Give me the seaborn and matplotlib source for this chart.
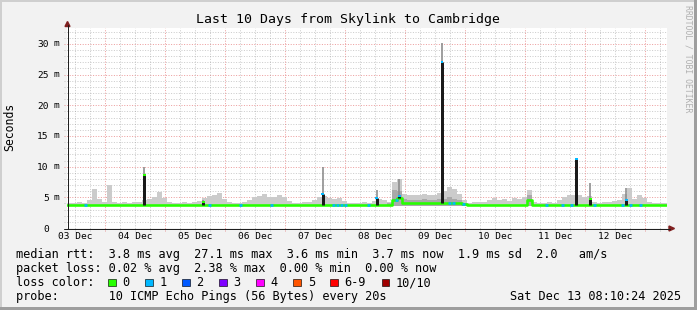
import numpy as np
import pandas as pd
import matplotlib
matplotlib.use("Agg")
import matplotlib.pyplot as plt
from matplotlib.patches import Rectangle, Polygon
from matplotlib.lines import Line2D
import seaborn as sns

# ---------------- data ----------------
title = "Last 10 Days from Skylink to Cambridge"
first_hour = 8.7          # hours after 03 Dec 00:00 at the left edge of the graph
span_hours = 240.0
bin_hours = 2.0
day_labels = ["03 Dec", "04 Dec", "05 Dec", "06 Dec", "07 Dec",
              "08 Dec", "09 Dec", "10 Dec", "11 Dec", "12 Dec"]
y_ticks_ms = [0, 5, 10, 15, 20, 25, 30]
min_rtt = 3.6

# smoke (max ping) per 2-hour bin, ms
smoke_top = [4.1, 4.1, 4.2, 4.1, 4.5, 6.4, 4.7, 4.3, 7.0, 4.2,
             4.1, 4.2, 4.1, 4.2, 4.3, 4.6, 4.8, 5.0, 5.9, 4.9,
             4.3, 4.1, 4.1, 4.2, 4.1, 4.2, 4.4, 4.9, 5.2, 5.3,
             5.7, 4.8, 4.2, 4.1, 4.1, 4.3, 4.6, 5.0, 5.2, 5.5,
             5.1, 5.0, 5.3, 5.0, 4.4, 4.1, 4.1, 4.2, 4.2, 4.6,
             5.0, 5.2, 4.9, 4.8, 4.9, 4.4, 4.1, 4.1, 4.1, 4.2,
             4.1, 4.4, 4.8, 4.6, 4.3, 7.5, 8.0, 5.6, 5.3, 5.4,
             5.3, 5.5, 5.3, 5.4, 5.7, 6.0, 6.7, 6.4, 5.6, 4.6,
             4.1, 4.2, 4.3, 4.3, 4.5, 4.9, 4.6, 4.8, 4.4, 4.9,
             4.7, 5.0, 6.2, 4.3, 4.1, 4.1, 4.2, 4.1, 4.5, 5.0,
             5.3, 5.4, 5.3, 5.0, 5.2, 4.3, 4.1, 4.2, 4.3, 4.4,
             4.5, 5.5, 6.5, 4.8, 5.4, 4.9, 4.2, 4.1, 4.1, 4.1]

# median rtt per 2-hour bin, ms
median_rtt = [3.75] * 10 + [3.75] * 10 + [3.75] * 10 + [3.75] * 10 + [3.75] * 10 + [3.75] * 10 + \
             [3.75, 3.75, 3.75, 3.75, 3.75, 4.6, 4.9, 4.15, 4.15, 4.15] + \
             [4.15, 4.15, 4.15, 4.15, 4.15, 4.15, 4.15, 4.15, 4.15, 3.95] + \
             [3.75] * 10 + \
             [3.75, 3.75, 4.5, 3.75, 3.75, 3.75, 3.75, 3.75, 3.75, 3.75] + \
             [3.75] * 10 + [3.75] * 10

# dense (dark) smoke band, 08-09 Dec and 11 Dec
dense_hours = [136.7, 138.7, 140.7, 142.7, 144.7, 146.7, 148.7, 150.7,
               152.7, 154.7, 156.7, 158.7, 160.7, 162.7, 164.7, 166.7, 192.7]
dense_top = [4.0, 6.2, 6.0, 4.7, 4.6, 4.6, 4.6, 4.7,
             4.6, 4.6, 4.7, 4.8, 5.0, 4.8, 4.6, 4.1, 5.3]

# single-step spikes of the median
spike_hours = [39.5, 63.1, 110.9, 132.5, 141.5, 158.7, 212.3, 217.9, 232.3]
spike_top = [8.6, 4.3, 5.5, 4.9, 5.2, 27.1, 11.3, 4.8, 4.6]
spike_smoke = [10.0, 4.6, 10.0, 6.2, 8.0, 30.2, 11.3, 7.4, 6.5]
spike_loss = [0, 0, 1, 1, 1, 1, 1, 0, 1]

# places where the median carries 1 lost ping
loss1_hours = [15.9, 65.5, 77.9, 90.3, 115.1, 116.7, 118.3, 119.9, 129.1, 140.3,
               161.5, 163.1, 167.1, 200.3, 206.7, 210.3, 219.5, 230.7, 233.9, 237.9]

loss_labels = ["0", "1", "2", "3", "4", "5", "6-9", "10/10"]
loss_colors = ["#26ff00", "#00b8ff", "#0059ff", "#7e00ff", "#ff00ff",
               "#ff5500", "#ff0000", "#a00000"]

stats_rtt = "median rtt:  3.8 ms avg  27.1 ms max  3.6 ms min  3.7 ms now  1.9 ms sd  2.0   am/s"
stats_loss = "packet loss: 0.02 % avg  2.38 % max  0.00 % min  0.00 % now"
loss_caption = "loss color:"
probe_line = "probe:       10 ICMP Echo Pings (56 Bytes) every 20s"
date_line = "Sat Dec 13 08:10:24 2025"

# ---------------- figure ----------------
sns.set_style("white")
plt.rcParams['font.family'] = ['DejaVu Sans Mono', 'DejaVu Sans']
plt.rcParams['text.color'] = 'black'

W, H = 697, 310
PT = 0.72  # points per pixel at 100 dpi


def fx(px):
    return px / W


def fy(py):
    return 1 - py / H


fig = plt.figure(figsize=(W / 100, H / 100), dpi=100, facecolor='#f2f2f2')
ax = fig.add_axes([fx(67), 82 / H, 600 / W, 200 / H])
ax.set_facecolor('white')
for s in ax.spines.values():
    s.set_visible(False)

x0, x1 = first_hour, first_hour + span_hours
ax.set_xlim(x0, x1)
ax.set_ylim(0, 32.6)

# grid
ytr = ax.get_yaxis_transform()
xtr = ax.get_xaxis_transform()
grid_c = (0.56, 0.56, 0.56, 0.45)
mgrid_c = (0.87, 0.31, 0.31, 0.55)
for v in range(1, 33):
    c = mgrid_c if v % 5 == 0 else grid_c
    ax.plot([-3 / 600, 1], [v, v], transform=ytr, color=c, lw=PT,
            ls=(0, (1, 1.6)), clip_on=False, zorder=0.5)
h = np.ceil(x0 / 6) * 6
while h < x1:
    c = mgrid_c if h % 24 == 0 else grid_c
    ax.plot([h, h], [-3 / 200, 1], transform=xtr, color=c, lw=PT,
            ls=(0, (1, 1.6)), clip_on=False, zorder=0.5)
    h += 6

# smoke
nb = len(smoke_top)
t_edges = first_hour + bin_hours * np.arange(nb + 1)
st = np.array(smoke_top + [smoke_top[-1]])
ax.fill_between(t_edges, min_rtt, st, step='post', color='#cbcbcb', lw=0, zorder=1)
for hh, top in zip(dense_hours, dense_top):
    ax.fill_between([hh, hh + bin_hours], min_rtt, top, step='post',
                    color='#a9a9a9', lw=0, zorder=1.1)

# median line (loss 0 colour)
df = pd.DataFrame({"hour": t_edges, "median": median_rtt + [median_rtt[-1]]})
sns.lineplot(data=df, x="hour", y="median", drawstyle='steps-post', color=loss_colors[0],
             lw=2.6 * PT, ax=ax, estimator=None, zorder=3)


def median_at(hh):
    i = int((hh - first_hour) // bin_hours)
    i = min(max(i, 0), nb - 1)
    return median_rtt[i]


# loss-1 marks on the median
for hh in loss1_hours:
    m = median_at(hh)
    ax.hlines(m, hh - 0.6, hh + 0.6, colors=loss_colors[1], lw=2.6 * PT, zorder=4)

# spikes
for hh, top, sm, ls in zip(spike_hours, spike_top, spike_smoke, spike_loss):
    base = median_at(hh)
    ax.vlines(hh, top, sm, colors='#8a8a8a', lw=1.6 * PT, zorder=2)
    ax.vlines(hh, base, top, colors='#1a1a1a', lw=3 * PT, zorder=4.5)
    ax.hlines(top, hh - 0.6, hh + 0.6, colors=loss_colors[ls], lw=2 * PT, zorder=5)

ax.set_xlabel("")
ax.set_ylabel("")

# ticks
noon_hours = [12 + 24 * i for i in range(len(day_labels))]
ax.set_xticks(noon_hours, day_labels)
ax.set_yticks(y_ticks_ms, [str(v) for v in y_ticks_ms])
ax.tick_params(axis='x', length=0, pad=3.0, labelsize=6.8, labelcolor='black')
ax.tick_params(axis='y', length=0, pad=13.2, labelsize=6.8, labelcolor='black')
for v in y_ticks_ms:
    if v != 0:
        ax.text(-13.6 / 600, v, "m", transform=ytr, ha='left', va='center',
                fontsize=6.8, color='black')

# axis lines and arrows
fig.add_artist(Line2D([fx(67.5), fx(67.5)], [fy(228.5), fy(25)], color='#1f1f1f', lw=PT))
fig.add_artist(Line2D([fx(64), fx(670)], [fy(228.5), fy(228.5)], color='#1f1f1f', lw=PT))
fig.add_artist(Polygon([(fx(65), fy(26.5)), (fx(70), fy(26.5)), (fx(67.5), fy(21.5))],
                       closed=True, transform=fig.transFigure, color='#801f1f'))
fig.add_artist(Polygon([(fx(669), fy(226)), (fx(669), fy(231)), (fx(674.5), fy(228.5))],
                       closed=True, transform=fig.transFigure, color='#801f1f'))

# titles
fig.text(fx(348), fy(19), title, ha='center', va='center', fontsize=9.5, color='black')
fig.text(fx(10), fy(127), "Seconds", rotation=90, ha='center', va='center',
         fontsize=8.3, color='black')
fig.text(fx(688), fy(59), "RRDTOOL / TOBI OETIKER", rotation=270, ha='center',
         va='center', fontsize=5.9, color='#b0b0b0')

# legend area
LF = 8.55
fig.text(fx(15.5), fy(254.5), stats_rtt, ha='left', va='center', fontsize=LF)
fig.text(fx(15.5), fy(268.5), stats_loss, ha='left', va='center', fontsize=LF)
fig.text(fx(15.5), fy(282.5), loss_caption, ha='left', va='center', fontsize=LF)
fig.text(fx(15.5), fy(296.5), probe_line, ha='left', va='center', fontsize=LF)
fig.text(fx(680.5), fy(296.5), date_line, ha='right', va='center', fontsize=LF)

sx = 108.3
for lab, col in zip(loss_labels, loss_colors):
    fig.add_artist(Rectangle((fx(sx), fy(286)), 7.5 / W, 7.5 / H, transform=fig.transFigure,
                             facecolor=col, edgecolor='black', lw=0.6 * PT))
    lx = sx + 14.2
    fig.text(fx(lx), fy(282.5), lab, ha='left', va='center', fontsize=LF)
    sx = lx + len(lab) * 7.13 + 15.7

# frame shading
fig.add_artist(Rectangle((0, fy(2)), 1, 2 / H, transform=fig.transFigure, color='#cfcfcf', lw=0))
fig.add_artist(Rectangle((0, 0), 2 / W, 1, transform=fig.transFigure, color='#cfcfcf', lw=0))
fig.add_artist(Rectangle((0, 0), 1, 3 / H, transform=fig.transFigure, color='#9e9e9e', lw=0))
fig.add_artist(Rectangle((fx(694), 0), 3 / W, 1, transform=fig.transFigure, color='#9e9e9e', lw=0))

fig.savefig("out.png", dpi=100, facecolor=fig.get_facecolor())
